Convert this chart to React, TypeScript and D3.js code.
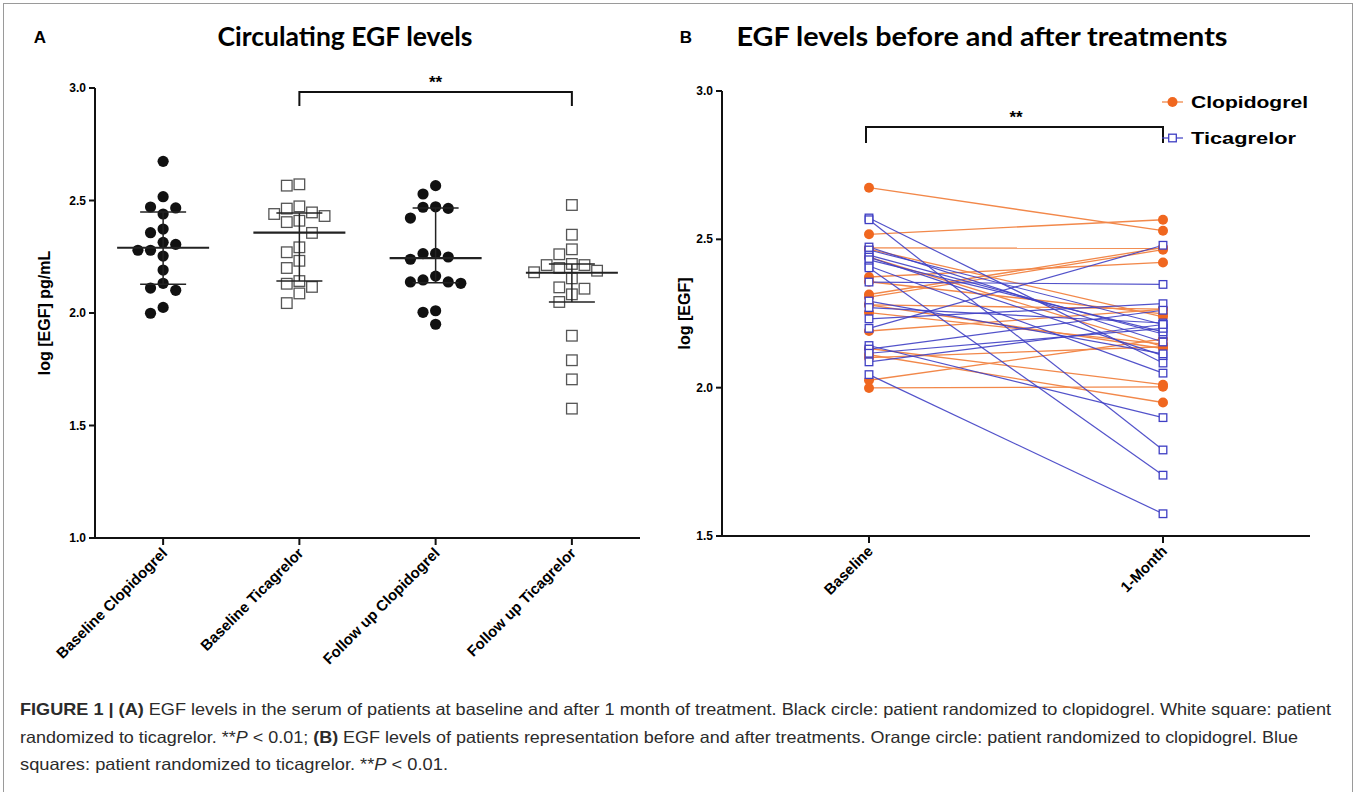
import React from "react";
import * as d3 from "d3";

// ---- panel A data ----
const groupsA = ["Baseline Clopidogrel", "Baseline Ticagrelor", "Follow up Clopidogrel", "Follow up Ticagrelor"];

// same patients, same order, so panel B can pair them
const baseClop = [2.674, 2.517, 2.471, 2.467, 2.44, 2.373, 2.357, 2.314, 2.305, 2.279, 2.279, 2.253, 2.191, 2.132, 2.111, 2.101, 2.025, 1.999];
const followClop = [2.529, 2.566, 2.47, 2.239, 2.138, 2.422, 2.249, 2.472, 2.465, 2.132, 2.265, 2.147, 2.264, 2.01, 1.95, 2.138, 2.164, 2.003];
const baseTica = [2.572, 2.566, 2.474, 2.464, 2.447, 2.44, 2.431, 2.41, 2.404, 2.356, 2.292, 2.27, 2.232, 2.2, 2.142, 2.13, 2.116, 2.087, 2.044];
const followTica = [2.083, 1.79, 2.154, 2.213, 2.181, 2.108, 2.188, 2.049, 1.705, 2.348, 2.114, 2.218, 2.283, 2.48, 1.899, 2.261, 2.2, 2.213, 1.575];

// centre line and error bar ends
const centerA = [2.29, 2.357, 2.244, 2.179];
const lowA = [2.128, 2.142, 2.135, 2.049];
const highA = [2.449, 2.444, 2.467, 2.218];

const ticksA = [1.0, 1.5, 2.0, 2.5, 3.0];

// ---- panel B ----
const timesB = ["Baseline", "1-Month"];
const ticksB = [1.5, 2.0, 2.5, 3.0];

const ORANGE = "#f0671f";
const ORANGE_LINE = "#f2884a";
const BLUE = "#3f3fc4";

const axisFont = "'Liberation Sans', Arial, sans-serif";
const titleFont = "Lato, 'Open Sans', sans-serif";

// simple beeswarm so points of close value sit side by side
function swarm(values: number[], y: (v: number) => number, step: number) {
  const order = d3.range(values.length).sort((a, b) => d3.descending(values[a], values[b]));
  const placed: { x: number; y: number }[] = [];
  const out: number[] = new Array(values.length);
  for (const i of order) {
    const py = y(values[i]);
    let dx = 0;
    for (let j = 0; j < 40; j++) {
      dx = (j === 0 ? 0 : (j % 2 === 1 ? -1 : 1) * Math.ceil(j / 2)) * step;
      if (placed.every((p) => Math.hypot(p.x - dx, p.y - py) >= step * 0.98)) break;
    }
    placed.push({ x: dx, y: py });
    out[i] = dx;
  }
  return out;
}

function PanelA() {
  const x = d3.scalePoint<string>().domain(groupsA).range([95, 640]).padding(0.5);
  const y = d3.scaleLinear().domain([1, 3]).range([538, 88]);
  const series = [baseClop, baseTica, followClop, followTica];
  const step = 12.6;

  return (
    <g>
      <text x={40} y={43} fontFamily={axisFont} fontWeight="bold" fontSize={17} textAnchor="middle">A</text>
      <text x={345} y={46} fontFamily={titleFont} fontWeight="bold" fontSize={26} textAnchor="middle"
        textLength={255} lengthAdjust="spacingAndGlyphs">Circulating EGF levels</text>

      {/* axes */}
      <line x1={95} x2={95} y1={y(3)} y2={y(1) + 1} stroke="#111" strokeWidth={2} />
      <line x1={94} x2={640} y1={y(1)} y2={y(1)} stroke="#111" strokeWidth={2} />
      {ticksA.map((t) => (
        <g key={t}>
          <line x1={89} x2={95} y1={y(t)} y2={y(t)} stroke="#111" strokeWidth={2} />
          <text x={86} y={y(t) + 4} textAnchor="end" fontFamily={axisFont} fontWeight="bold" fontSize={12}>{t.toFixed(1)}</text>
        </g>
      ))}
      {groupsA.map((g) => (
        <g key={g}>
          <line x1={x(g)} x2={x(g)} y1={y(1)} y2={y(1) + 7} stroke="#111" strokeWidth={2} />
          <text transform={`translate(${(x(g) as number) + 5},${y(1) + 16}) rotate(-45)`} textAnchor="end"
            fontFamily={axisFont} fontWeight="bold" fontSize={15}>{g}</text>
        </g>
      ))}
      <text transform={`translate(50,${y(2.0)}) rotate(-90)`} textAnchor="middle" fontFamily={axisFont} fontWeight="bold" fontSize={16}>log [EGF] pg/mL</text>

      {/* points */}
      {series.map((vals, gi) => {
        const cx = x(groupsA[gi]) as number;
        const offs = swarm(vals, y, step);
        return vals.map((v, i) =>
          gi % 2 === 0 ? (
            <circle key={`${gi}-${i}`} cx={cx + offs[i]} cy={y(v)} r={5.6} fill="#111" />
          ) : (
            <rect key={`${gi}-${i}`} x={cx + offs[i] - 5.3} y={y(v) - 5.3} width={10.6} height={10.6}
              fill="#fff" stroke="#555" strokeWidth={1.3} />
          )
        );
      })}

      {/* centre line + bars */}
      {groupsA.map((g, gi) => {
        const cx = x(g) as number;
        return (
          <g key={g} stroke="#222">
            <line x1={cx} x2={cx} y1={y(lowA[gi])} y2={y(highA[gi])} strokeWidth={1.5} />
            <line x1={cx - 23} x2={cx + 23} y1={y(lowA[gi])} y2={y(lowA[gi])} strokeWidth={1.5} />
            <line x1={cx - 23} x2={cx + 23} y1={y(highA[gi])} y2={y(highA[gi])} strokeWidth={1.5} />
            <line x1={cx - 46} x2={cx + 46} y1={y(centerA[gi])} y2={y(centerA[gi])} strokeWidth={2.2} />
          </g>
        );
      })}

      {/* significance */}
      <path d={`M${x(groupsA[1])},106V92H${x(groupsA[3])}V106`} fill="none" stroke="#111" strokeWidth={2} />
      <text x={((x(groupsA[1]) as number) + (x(groupsA[3]) as number)) / 2} y={88} textAnchor="middle"
        fontFamily={axisFont} fontWeight="bold" fontSize={17}>**</text>
    </g>
  );
}

function PanelB() {
  const x = d3.scalePoint<string>().domain(timesB).range([722, 1310]).padding(0.5);
  const y = d3.scaleLinear().domain([1.5, 3]).range([536, 91]);
  const x0 = x(timesB[0]) as number;
  const x1 = x(timesB[1]) as number;
  const line = d3.line<[number, number]>();

  return (
    <g>
      <text x={686} y={43} fontFamily={axisFont} fontWeight="bold" fontSize={17} textAnchor="middle">B</text>
      <text x={982} y={46} fontFamily={titleFont} fontWeight="bold" fontSize={26} textAnchor="middle"
        textLength={491} lengthAdjust="spacingAndGlyphs">EGF levels before and after treatments</text>

      <line x1={722} x2={722} y1={y(3)} y2={y(1.5) + 1} stroke="#111" strokeWidth={2} />
      <line x1={721} x2={1310} y1={y(1.5)} y2={y(1.5)} stroke="#111" strokeWidth={2} />
      {ticksB.map((t) => (
        <g key={t}>
          <line x1={716} x2={722} y1={y(t)} y2={y(t)} stroke="#111" strokeWidth={2} />
          <text x={713} y={y(t) + 4} textAnchor="end" fontFamily={axisFont} fontWeight="bold" fontSize={12}>{t.toFixed(1)}</text>
        </g>
      ))}
      {timesB.map((g) => (
        <g key={g}>
          <line x1={x(g)} x2={x(g)} y1={y(1.5)} y2={y(1.5) + 7} stroke="#111" strokeWidth={2} />
          <text transform={`translate(${(x(g) as number) + 5},${y(1.5) + 16}) rotate(-45)`} textAnchor="end"
            fontFamily={axisFont} fontWeight="bold" fontSize={15}>{g}</text>
        </g>
      ))}
      <text transform={`translate(690,${y(2.25)}) rotate(-90)`} textAnchor="middle" fontFamily={axisFont} fontWeight="bold" fontSize={16}>log [EGF]</text>

      {/* slopes */}
      {baseClop.map((v, i) => (
        <path key={`cl${i}`} d={line([[x0, y(v)], [x1, y(followClop[i])]]) as string} stroke={ORANGE_LINE} strokeWidth={1.3} fill="none" />
      ))}
      {baseTica.map((v, i) => (
        <path key={`tl${i}`} d={line([[x0, y(v)], [x1, y(followTica[i])]]) as string} stroke={BLUE} strokeWidth={1.2} fill="none" opacity={0.9} />
      ))}
      {baseClop.map((v, i) => (
        <g key={`cp${i}`} fill={ORANGE}>
          <circle cx={x0} cy={y(v)} r={5} />
          <circle cx={x1} cy={y(followClop[i])} r={5} />
        </g>
      ))}
      {baseTica.map((v, i) => (
        <g key={`tp${i}`} fill="#fff" stroke={BLUE} strokeWidth={1.3}>
          <rect x={x0 - 3.8} y={y(v) - 3.8} width={7.6} height={7.6} />
          <rect x={x1 - 3.8} y={y(followTica[i]) - 3.8} width={7.6} height={7.6} />
        </g>
      ))}

      {/* significance */}
      <path d={`M${x0 - 3},143V127H${x1}V143`} fill="none" stroke="#111" strokeWidth={2} />
      <text x={(x0 + x1) / 2} y={123} textAnchor="middle" fontFamily={axisFont} fontWeight="bold" fontSize={17}>**</text>

      {/* legend */}
      <g fontFamily={axisFont} fontWeight="bold" fontSize={16}>
        <line x1={1162} x2={1183} y1={102} y2={102} stroke={ORANGE_LINE} strokeWidth={1.3} />
        <circle cx={1172.5} cy={102} r={5} fill={ORANGE} />
        <text x={1191} y={108} textLength={117} lengthAdjust="spacingAndGlyphs">Clopidogrel</text>
        <line x1={1162} x2={1183} y1={138} y2={138} stroke={BLUE} strokeWidth={1.2} />
        <rect x={1168.7} y={134.2} width={7.6} height={7.6} fill="#fff" stroke={BLUE} strokeWidth={1.3} />
        <text x={1191} y={144} textLength={105} lengthAdjust="spacingAndGlyphs">Ticagrelor</text>
      </g>
    </g>
  );
}

function Caption() {
  const f = "'Liberation Sans Narrow', 'Liberation Sans', Arial, sans-serif";
  return (
    <g fontFamily={f} fontSize={16.5} fill="#2b2b2b">
      <text x={20} y={715} textLength={1311} lengthAdjust="spacingAndGlyphs">
        <tspan fontWeight="bold">FIGURE 1 | (A)</tspan> EGF levels in the serum of patients at baseline and after 1 month of treatment. Black circle: patient randomized to clopidogrel. White square: patient
      </text>
      <text x={20} y={743} textLength={1278} lengthAdjust="spacingAndGlyphs">
        randomized to ticagrelor. **<tspan fontStyle="italic">P</tspan> &lt; 0.01; <tspan fontWeight="bold">(B)</tspan> EGF levels of patients representation before and after treatments. Orange circle: patient randomized to clopidogrel. Blue
      </text>
      <text x={20} y={770} textLength={428} lengthAdjust="spacingAndGlyphs">
        squares: patient randomized to ticagrelor. **<tspan fontStyle="italic">P</tspan> &lt; 0.01.
      </text>
    </g>
  );
}

export default function App() {
  return (
    <svg width={1357} height={792} style={{ position: "absolute", left: 0, top: 0, background: "#fff" }}>
      <rect x={3.5} y={3.5} width={1349} height={800} fill="none" stroke="#9a9a9a" strokeWidth={1} />
      <PanelA />
      <PanelB />
      <Caption />
    </svg>
  );
}
